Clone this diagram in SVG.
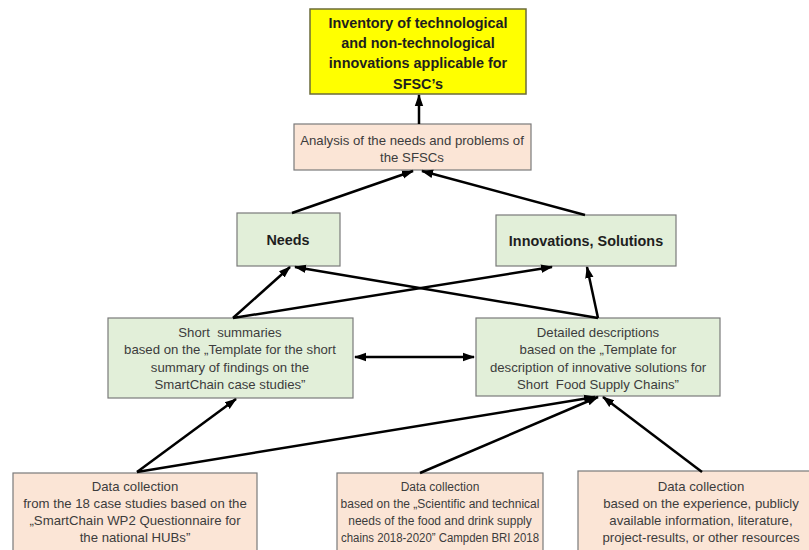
<svg xmlns="http://www.w3.org/2000/svg" width="809" height="550" viewBox="0 0 809 550">
<style>
  .box { stroke: #7a7a7a; stroke-width: 1.2; }
  .yellow { fill: #ffff00; stroke: #6b6b3a; stroke-width: 1.5; }
  .peach { fill: #fbe5d6; }
  .green { fill: #e2efd9; }
  .t { font-family: "Liberation Sans", Arial, sans-serif; font-size: 13.2px; fill: #3c3c3c; text-anchor: middle; }
  .s { font-size: 12px; }
  .tb { font-family: "Liberation Sans", Arial, sans-serif; font-weight: bold; fill: #1e1e1e; text-anchor: middle; }
  .conn line { stroke: #000; stroke-width: 2.5; fill: none; marker-end: url(#ah); }
</style>
<defs>
  <marker id="ah" markerUnits="userSpaceOnUse" markerWidth="12" markerHeight="10" viewBox="0 0 12 10" refX="11" refY="5" orient="auto-start-reverse">
    <path d="M0,0.8 L12,5 L0,9.2 Z" fill="#000"/>
  </marker>
</defs>
<rect width="809" height="550" fill="#ffffff"/>

<g id="inventory">
  <rect class="yellow" x="310" y="9" width="216" height="85"/>
  <text class="tb" font-size="14.4" x="418" y="27.5">Inventory of technological</text>
  <text class="tb" font-size="14.4" x="418" y="48">and non-technological</text>
  <text class="tb" font-size="14.4" x="418" y="68">innovations applicable for</text>
  <text class="tb" font-size="14.4" x="418" y="88.5">SFSC’s</text>
</g>

<g id="analysis">
  <rect class="box peach" x="294" y="124" width="237" height="46"/>
  <text class="t" x="412" y="144.5">Analysis of the needs and problems of</text>
  <text class="t" x="412" y="161.5">the SFSCs</text>
</g>

<g id="needs">
  <rect class="box green" x="237" y="213" width="103" height="53"/>
  <text class="tb" font-size="14.4" x="288" y="245">Needs</text>
</g>

<g id="innovations">
  <rect class="box green" x="496" y="215" width="180" height="51"/>
  <text class="tb" font-size="14.4" x="586" y="246">Innovations, Solutions</text>
</g>

<g id="short-summaries">
  <rect class="box green" x="108" y="318" width="245" height="80"/>
  <text class="t" x="230" y="336.5" xml:space="preserve">Short  summaries</text>
  <text class="t" x="230" y="354">based on the „Template for the short</text>
  <text class="t" x="230" y="371.5">summary of findings on the</text>
  <text class="t" x="230" y="389">SmartChain case studies”</text>
</g>

<g id="detailed">
  <rect class="box green" x="476" y="318" width="244" height="78"/>
  <text class="t" x="598" y="336.5">Detailed descriptions</text>
  <text class="t" x="598" y="354">based on the „Template for</text>
  <text class="t" x="598" y="371.5">description of innovative solutions for</text>
  <text class="t" x="598" y="389" xml:space="preserve">Short  Food Supply Chains”</text>
</g>

<g id="data1">
  <rect class="box peach" x="13" y="473" width="244" height="90"/>
  <text class="t" x="135" y="491">Data collection</text>
  <text class="t" x="135" y="508">from the 18 case studies based on the</text>
  <text class="t" x="135" y="525">„SmartChain WP2 Questionnaire for</text>
  <text class="t" x="135" y="542">the national HUBs”</text>
</g>

<g id="data2">
  <rect class="box peach" x="337" y="473" width="206" height="90"/>
  <text class="t s" x="440" y="491">Data collection</text>
  <text class="t s" x="440" y="508">based on the „Scientific and technical</text>
  <text class="t s" x="440" y="525">needs of the food and drink supply</text>
  <text class="t s" x="440" y="542" textLength="198" lengthAdjust="spacingAndGlyphs">chains 2018-2020” Campden BRI 2018</text>
</g>

<g id="data3">
  <rect class="box peach" x="578" y="471" width="245" height="92"/>
  <text class="t" x="701" y="491">Data collection</text>
  <text class="t" x="701" y="508">based on the experience, publicly</text>
  <text class="t" x="701" y="525">available information, literature,</text>
  <text class="t" x="701" y="542">project-results, or other resources</text>
</g>

<g id="connectors" class="conn">
  <line x1="419" y1="124" x2="419" y2="95"/>
  <line x1="292" y1="213" x2="413" y2="171"/>
  <line x1="585" y1="215" x2="422" y2="171"/>
  <line x1="233" y1="318" x2="290" y2="267"/>
  <line x1="233" y1="318" x2="552" y2="267"/>
  <line x1="598" y1="318" x2="295" y2="267"/>
  <line x1="598" y1="318" x2="587" y2="267"/>
  <line x1="355" y1="357" x2="474" y2="357" style="marker-start: url(#ah)"/>
  <line x1="137" y1="472" x2="236" y2="399"/>
  <line x1="137" y1="472" x2="595" y2="397"/>
  <line x1="420" y1="473" x2="598" y2="397"/>
  <line x1="702" y1="472" x2="603" y2="397"/>
</g>
</svg>
